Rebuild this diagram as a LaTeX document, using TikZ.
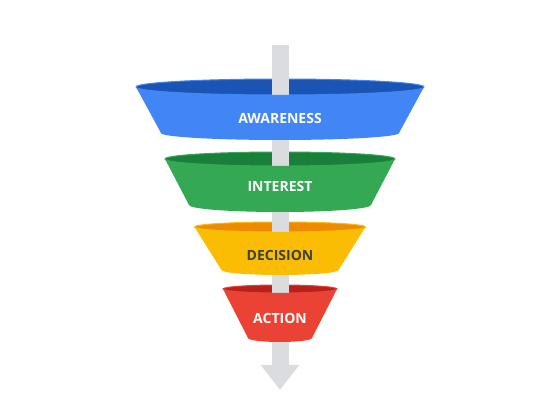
\documentclass[tikz,border=0pt]{standalone}
\usepackage{fontspec}
\setsansfont{Open Sans}
\usepackage{tikz}
\usetikzlibrary{arrows.meta}
\definecolor{awareblue}{HTML}{4285F4}
\definecolor{awaredark}{HTML}{1A55B5}
\definecolor{interestgreen}{HTML}{34A853}
\definecolor{interestdark}{HTML}{188038}
\definecolor{decisionyellow}{HTML}{FBBC04}
\definecolor{decisiondark}{HTML}{EE8A00}
\definecolor{actionred}{HTML}{EA4335}
\definecolor{actiondark}{HTML}{B8201A}
\definecolor{shaftgray}{HTML}{DADCE0}
\definecolor{labeldark}{HTML}{3C4043}

\begin{document}
\begin{tikzpicture}[x=1pt, y=1pt,
    stage/.style={font=\sffamily\bfseries\fontsize{14}{14}\selectfont, text=white}]
  \useasboundingbox (0,0) rectangle (560,420);
  % inside of each funnel
  \foreach \yt/\rt/\ryt/\c/\d in {333/144/8/awareblue/awaredark,
      261/115/7/interestgreen/interestdark,
      193/85.5/5/decisionyellow/decisiondark,
      131/57/4/actionred/actiondark}
    \filldraw[fill=\d, draw=\c, line width=1pt] (280,\yt) ellipse [x radius=\rt, y radius=\ryt];
  % arrow through the funnels
  \coordinate (shafttop) at (280,375);
  \coordinate (tip) at (280,30);
  \draw[shaftgray, line width=17pt, -{Triangle[width=37pt, length=25pt]}] (shafttop) -- (tip);
  % front of each funnel
  \foreach \yt/\rt/\ryt/\yb/\rb/\ryb/\c in {333/144/8/287/119/7/awareblue,
      261/115/7/215/91/7/interestgreen,
      193/85.5/5/150/58.5/5/decisionyellow,
      131/57/4/82/32/4/actionred}
    \fill[\c] (280-\rt,\yt) arc[start angle=180, end angle=360, x radius=\rt, y radius=\ryt]
      -- (280+\rb,\yb) arc[start angle=360, end angle=180, x radius=\rb, y radius=\ryb] -- cycle;
  \node[stage] (awareness) at (280,301) {AWARENESS};
  \node[stage] (interest) at (280,233) {INTEREST};
  \node[stage, text=labeldark] (decision) at (280,165) {DECISION};
  \node[stage] (action) at (280,102) {ACTION};
\end{tikzpicture}
\end{document}
